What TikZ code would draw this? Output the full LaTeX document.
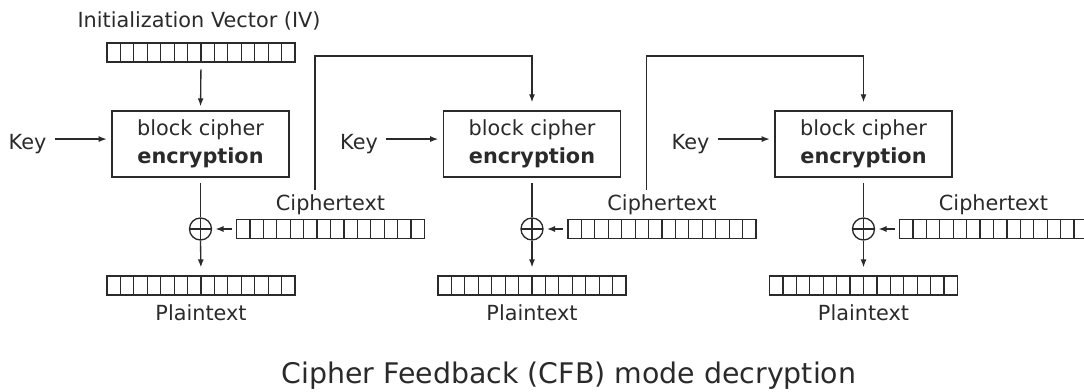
\documentclass[tikz,border=0pt]{standalone}
\usepackage{fontspec}
\setmainfont{DejaVu Sans}
\usetikzlibrary{arrows.meta}
\definecolor{ink}{HTML}{2A2A2A}
\begin{document}
\begin{tikzpicture}[x=0.75pt,y=-0.75pt,
  every node/.style={text=ink},
  body/.style={font=\fontsize{15.6pt}{21pt}\selectfont, inner sep=0pt},
  lbl/.style={body, anchor=base},
  cipherbox/.style={draw=ink, line width=1pt, minimum width=132.75pt, minimum height=49.5pt,
     align=center, body},
  reg/.style={draw=ink, line width=0.9pt, minimum width=141pt, minimum height=14.25pt, inner sep=0pt,
     path picture={\foreach \i in {1,...,13}
       \draw[ink, line width=0.9pt] ([xshift=\i*10.071pt]path picture bounding box.south west) -- ([xshift=\i*10.071pt]path picture bounding box.north west);}},
  xor/.style={draw=ink, line width=1pt, circle, minimum size=16.5pt, inner sep=0pt,
     path picture={\draw[ink, line width=1pt] (path picture bounding box.west) -- (path picture bounding box.east)
        (path picture bounding box.north) -- (path picture bounding box.south);}},
  conn/.style={draw=ink, line width=1pt},
  arr/.style={conn, -{Latex[length=6pt,width=4.5pt]}},
]
\useasboundingbox (0,0) rectangle (1084,392);

% column 1
\node[lbl] (ivlabel) at (199,27.5) {Initialization Vector (IV)};
\node[reg] (iv) at (201,52.5) {};
\node[cipherbox] (box1) at (200.5,144) {block cipher\\\textbf{encryption}};
\node[lbl] (key1) at (27.5,150) {Key};
\node[xor] (x1) at (200.5,229) {};
\node[reg] (ct1) at (330.5,229) {};
\node[lbl] (ctl1) at (330.5,210) {Ciphertext};
\node[reg] (pt1) at (201,285.5) {};
\node[lbl] (ptl1) at (201,320) {Plaintext};

% column 2
\node[cipherbox] (box2) at (532,144) {block cipher\\\textbf{encryption}};
\node[lbl] (key2) at (359,150) {Key};
\node[xor] (x2) at (532,229) {};
\node[reg] (ct2) at (662,229) {};
\node[lbl] (ctl2) at (662,210) {Ciphertext};
\node[reg] (pt2) at (532,285.5) {};
\node[lbl] (ptl2) at (532,320) {Plaintext};

% column 3
\node[cipherbox] (box3) at (863.5,144) {block cipher\\\textbf{encryption}};
\node[lbl] (key3) at (690.5,150) {Key};
\node[xor] (x3) at (863.5,229) {};
\node[reg] (ct3) at (993.5,229) {};
\node[lbl] (ctl3) at (993.5,210) {Ciphertext};
\node[reg] (pt3) at (863.5,285.5) {};
\node[lbl] (ptl3) at (863.5,320) {Plaintext};

% title
\node[anchor=base, inner sep=0pt, font=\fontsize{21.3pt}{26pt}\selectfont] (title) at (569,383) {Cipher Feedback (CFB) mode decryption};

% connectors
\draw[arr, shorten <=5pt, shorten >=3pt] (iv.south) -- (box1.north);
\foreach \k in {1,2,3}{
  \draw[arr, shorten <=6pt, shorten >=3.5pt] (key\k.east) ++(0,-5.5) coordinate (ks\k) -- (ks\k -| box\k.west);
  \draw[conn, shorten <=4pt] (box\k.south) -- (x\k.north);
  \draw[arr, shorten >=6pt] (x\k.south) -- (pt\k.north);
  \draw[arr, shorten <=3pt, shorten >=2.5pt] (ct\k.west) -- (x\k.east);
}
\coordinate (fb1) at (315,190);
\coordinate (fbt1) at (315,56);
\coordinate (fb2) at (646.5,190);
\coordinate (fbt2) at (646.5,56);
\draw[arr, shorten >=6pt] (fb1) -- (fbt1) -| (box2.north);
\draw[arr, shorten >=6pt] (fb2) -- (fbt2) -| (box3.north);
\end{tikzpicture}
\end{document}
